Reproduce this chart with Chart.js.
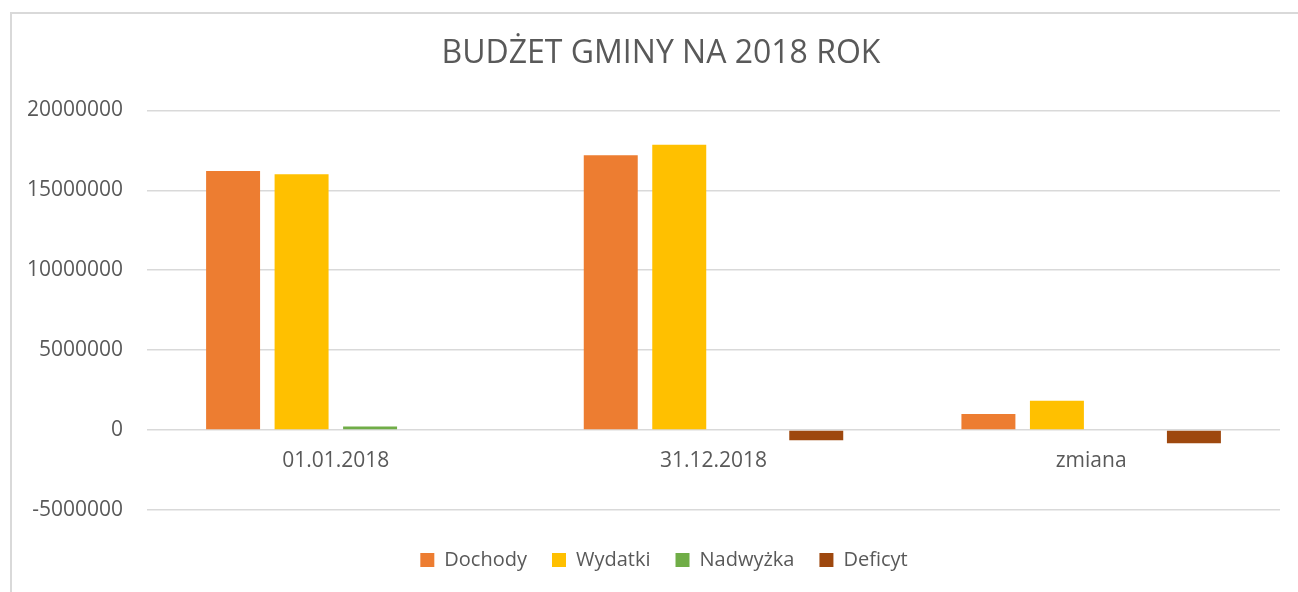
<!DOCTYPE html>
<html>
<head>
<meta charset="utf-8">
<script src="https://cdn.jsdelivr.net/npm/chart.js@4"></script>
<style>
  body { margin: 0; background: #fff; }
  #frame {
    position: absolute; left: 10px; top: 12px;
    width: 1286px; height: 578px;
    border-left: 2px solid #d9d9d9; border-top: 2px solid #d9d9d9;
  }
</style>
</head>
<body>
<div id="frame"><canvas id="myChart" width="1286" height="578"></canvas></div>
<script>
const categories = ["01.01.2018", "31.12.2018", "zmiana"];
const dochody = [16200000, 17200000, 1000000];
const wydatki = [16000000, 17850000, 1820000];
const nadwyzka = [210000, 0, 0];
const deficyt = [0, -650000, -830000];

const textColor = "#595959";
Chart.defaults.font.family = "'Open Sans'";
Chart.defaults.color = textColor;

// excel centres title/legend a bit to the right of the canvas middle
const shiftBoxes = {
  id: "shiftBoxes",
  afterLayout(chart) {
    chart.legend.left += 36;
    chart.titleBlock.left += 30;
  },
};

const chart = new Chart("myChart", {
  type: "bar",
  data: {
    labels: categories,
    datasets: [
      { label: "Dochody", data: dochody, backgroundColor: "#ED7D31" },
      { label: "Wydatki", data: wydatki, backgroundColor: "#FFC000" },
      { label: "Nadwyżka", data: nadwyzka, backgroundColor: "#70AD47" },
      { label: "Deficyt", data: deficyt, backgroundColor: "#9E480E" },
    ],
  },
  options: {
    responsive: false,
    animation: false,
    layout: { padding: { left: 0, right: 18, top: 0, bottom: 12 } },
    datasets: { bar: { categoryPercentage: 0.7255, barPercentage: 0.788 } },
    plugins: {
      title: {
        display: true,
        text: "BUDŻET GMINY NA 2018 ROK",
        color: textColor,
        font: { size: 32, weight: "normal" },
        padding: { top: 21, bottom: 37 },
      },
      legend: {
        position: "bottom",
        title: { display: true, text: "", font: { size: 1 }, padding: { top: 7, bottom: 7 } },
        labels: {
          boxWidth: 14,
          boxHeight: 14,
          padding: 25,
          font: { size: 20 },
          color: textColor,
        },
      },
      tooltip: { enabled: false },
    },
    scales: {
      x: {
        position: { y: 0 },
        grid: { display: false },
        border: { display: false },
        ticks: { padding: 10, font: { size: 21 }, color: textColor },
      },
      y: {
        min: -5000000,
        max: 20000000,
        ticks: {
          stepSize: 5000000,
          padding: 24,
          font: { size: 21 },
          color: textColor,
          callback: (v) => String(v),
        },
        grid: { color: "#d9d9d9", lineWidth: 1.5, drawTicks: false },
        border: { display: false },
        afterFit: (scale) => { scale.width = 135; },
      },
    },
  },
  plugins: [shiftBoxes],
});
</script>
</body>
</html>
